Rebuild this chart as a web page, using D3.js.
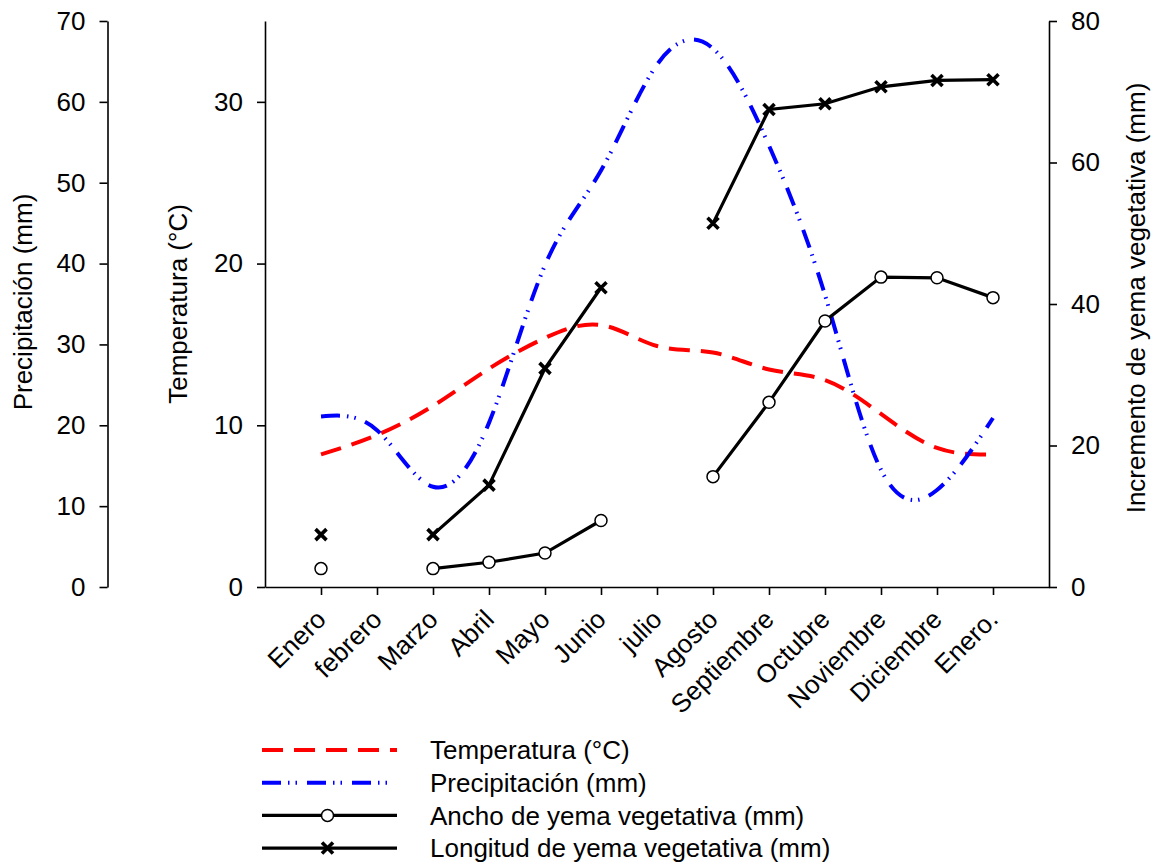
<!DOCTYPE html>
<html>
<head>
<meta charset="utf-8">
<script src="https://cdn.jsdelivr.net/npm/d3@7"></script>
<style>
  html, body { margin: 0; padding: 0; background: #fff; }
  svg { display: block; }
  text { font-family: "Liberation Sans", Arial, sans-serif; fill: #000; }
</style>
</head>
<body>
<svg id="chart" width="1155" height="865"></svg>
<script>
// ---- Data ----
const months = ["Enero", "febrero", "Marzo", "Abril", "Mayo", "Junio", "julio", "Agosto",
                "Septiembre", "Octubre", "Noviembre", "Diciembre", "Enero."];
const temperatura = [8.2, 9.4, 11.2, 13.5, 15.4, 16.2, 14.9, 14.5, 13.45, 12.8, 10.7, 8.6, 8.2];
const precipitacion = [21.1, 19.4, 12.4, 20.3, 39.8, 51.5, 64.6, 66.6, 54.6, 36.1, 14.5, 12.0, 20.9];
const ancho = [2.6, null, 2.6, 3.5, 4.8, 9.4, null, 15.6, 26.1, 37.6, 43.8, 43.7, 40.9];
const longitud = [7.4, null, 7.4, 14.4, 30.9, 42.3, null, 51.4, 67.5, 68.3, 70.7, 71.6, 71.7];
const precipTicks = [0, 10, 20, 30, 40, 50, 60, 70];
const tempTicks = [0, 10, 20, 30];
const rightTicks = [0, 20, 40, 60, 80];
const legendLabels = ["Temperatura (°C)", "Precipitación (mm)",
                      "Ancho de yema vegetativa (mm)", "Longitud de yema vegetativa (mm)"];

// ---- Layout ----
const FONT = 26;
const yTop = 21, yBottom = 587;
const xLeft = 265, xRight = 1049, xPrecip = 107.5;

const svg = d3.select("#chart");

const x = d3.scaleLinear().domain([-1, 13]).range([xLeft, xRight]);
const yT = d3.scaleLinear().domain([0, 35]).range([yBottom, yTop]);
const yP = d3.scaleLinear().domain([0, 70]).range([yBottom, yTop]);
const yR = d3.scaleLinear().domain([0, 80]).range([yBottom, yTop]);

function styleAxis(g) {
  g.selectAll("path.domain").attr("stroke", "#000").attr("stroke-width", 1.6);
  g.selectAll(".tick line").attr("stroke", "#000").attr("stroke-width", 1.6);
  g.selectAll("text").style("font-size", FONT + "px")
    .style("font-family", '"Liberation Sans", Arial, sans-serif').attr("fill", "#000");
}

// Precipitation axis (far left)
svg.append("g").attr("transform", `translate(${xPrecip},0)`)
  .call(d3.axisLeft(yP).tickValues(precipTicks).tickSize(8).tickSizeOuter(0).tickPadding(14))
  .call(styleAxis);

// Temperature axis
svg.append("g").attr("transform", `translate(${xLeft},0)`)
  .call(d3.axisLeft(yT).tickValues(tempTicks).tickSize(8).tickSizeOuter(0).tickPadding(14))
  .call(styleAxis);

// Right axis
svg.append("g").attr("transform", `translate(${xRight},0)`)
  .call(d3.axisRight(yR).tickValues(rightTicks).tickSize(8).tickSizeOuter(0).tickPadding(14))
  .call(styleAxis);

// X axis
const xg = svg.append("g").attr("transform", `translate(0,${yBottom})`)
  .call(d3.axisBottom(x).tickValues(d3.range(months.length)).tickFormat(i => months[i])
    .tickSize(8).tickSizeOuter(0))
  .call(styleAxis);
xg.selectAll(".tick text")
  .attr("y", 0).attr("dy", 0)
  .attr("text-anchor", "end")
  .attr("transform", "translate(6,34) rotate(-45)");

// Axis titles
svg.append("text").attr("transform", `translate(32,302) rotate(-90)`)
  .attr("text-anchor", "middle").style("font-size", FONT + "px").text("Precipitación (mm)");
svg.append("text").attr("transform", `translate(187,304) rotate(-90)`)
  .attr("text-anchor", "middle").style("font-size", FONT + "px").text("Temperatura (°C)");
svg.append("text").attr("transform", `translate(1145,298) rotate(-90)`)
  .attr("text-anchor", "middle").style("font-size", FONT + "px").text("Incremento de yema vegetativa (mm)");

// ---- Series ----
const idx = d3.range(months.length);
const redDash = "21,11";
const blueDash = "19,7,1.5,6,1.5,10";

const lineT = d3.line().x(i => x(i)).y(i => yT(temperatura[i])).curve(d3.curveNatural);
const lineP = d3.line().x(i => x(i)).y(i => yP(precipitacion[i])).curve(d3.curveNatural);

svg.append("path").attr("d", lineT(idx)).attr("fill", "none")
  .attr("stroke", "#ff0000").attr("stroke-width", 4).attr("stroke-dasharray", redDash);
svg.append("path").attr("d", lineP(idx)).attr("fill", "none")
  .attr("stroke", "#0000ff").attr("stroke-width", 4).attr("stroke-dasharray", blueDash);

const lineA = d3.line().defined(i => ancho[i] != null).x(i => x(i)).y(i => yR(ancho[i]));
const lineL = d3.line().defined(i => longitud[i] != null).x(i => x(i)).y(i => yR(longitud[i]));

svg.append("path").attr("d", lineA(idx)).attr("fill", "none")
  .attr("stroke", "#000").attr("stroke-width", 3.2);
svg.append("path").attr("d", lineL(idx)).attr("fill", "none")
  .attr("stroke", "#000").attr("stroke-width", 3.2);

function cross(sel, cx, cy, s) {
  sel.append("path")
    .attr("d", `M${cx - s},${cy - s}L${cx + s},${cy + s}M${cx - s},${cy + s}L${cx + s},${cy - s}`)
    .attr("stroke", "#000").attr("stroke-width", 3.6).attr("fill", "none");
}

svg.append("g").selectAll("circle")
  .data(idx.filter(i => ancho[i] != null))
  .join("circle")
  .attr("cx", i => x(i)).attr("cy", i => yR(ancho[i])).attr("r", 6)
  .attr("fill", "#fff").attr("stroke", "#000").attr("stroke-width", 1.5);

const crossG = svg.append("g");
idx.filter(i => longitud[i] != null).forEach(i => cross(crossG, x(i), yR(longitud[i]), 5.5));

// ---- Legend ----
const lgX1 = 262, lgX2 = 397, lgTextX = 430, lgY0 = 750, lgStep = 32.7;
const lg = svg.append("g");
legendLabels.forEach((lab, k) => {
  const y = lgY0 + k * lgStep;
  const ln = lg.append("line").attr("x1", lgX1).attr("x2", lgX2).attr("y1", y).attr("y2", y)
    .attr("fill", "none");
  if (k === 0) ln.attr("stroke", "#ff0000").attr("stroke-width", 4).attr("stroke-dasharray", redDash);
  else if (k === 1) ln.attr("stroke", "#0000ff").attr("stroke-width", 4).attr("stroke-dasharray", blueDash);
  else ln.attr("stroke", "#000").attr("stroke-width", 3.2);
  const mx = (lgX1 + lgX2) / 2 - 2;
  if (k === 2) lg.append("circle").attr("cx", mx).attr("cy", y).attr("r", 6)
    .attr("fill", "#fff").attr("stroke", "#000").attr("stroke-width", 1.5);
  if (k === 3) cross(lg, mx, y, 5.5);
  lg.append("text").attr("x", lgTextX).attr("y", y).attr("dy", "0.35em")
    .style("font-size", FONT + "px").text(lab);
});
</script>
</body>
</html>
